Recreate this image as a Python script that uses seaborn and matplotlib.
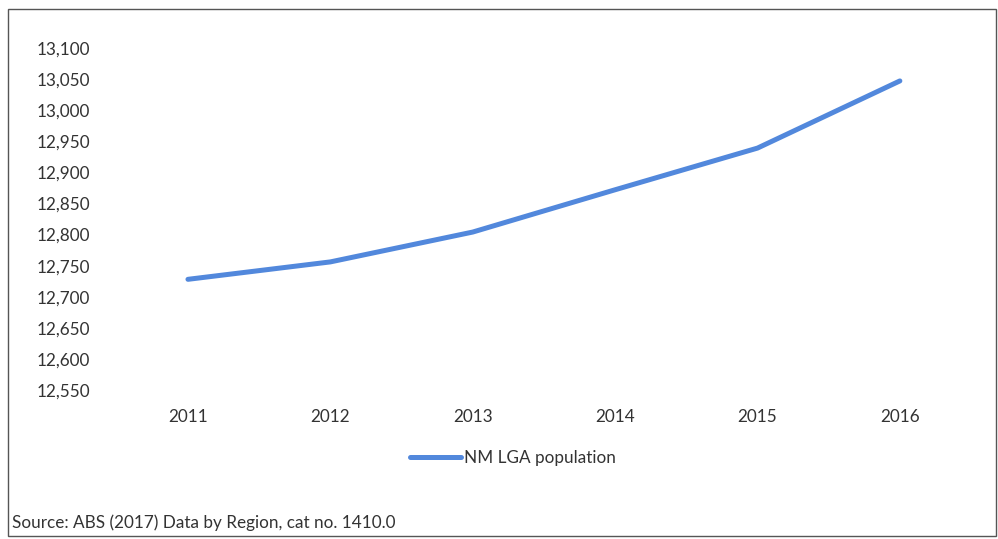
import pandas as pd
import numpy as np
import matplotlib
matplotlib.use('Agg')
import matplotlib.pyplot as plt
import seaborn as sns
from matplotlib.ticker import FuncFormatter
from matplotlib.patches import Rectangle

#------------------------------------------------
years=[2011, 2012, 2013, 2014, 2015, 2016]
population=[12728, 12756, 12804, 12872, 12939, 13047]
y_ticks=[12550, 12600, 12650, 12700, 12750, 12800, 12850, 12900, 12950, 13000, 13050, 13100]
series_name='NM LGA population'
source='Source: ABS (2017) Data by Region, cat no. 1410.0'

c_line='#5288dc'
c_txt='#333333'

##########################################################
sns.set_style('white')
plt.rcParams['font.family']=['Lato', 'DejaVu Sans']

df=pd.DataFrame({'year': years, series_name: population})

fig=plt.figure(figsize=(9.98, 5.39), dpi=100)
ax=fig.add_axes([0.117, 0.2764, 0.856, 0.6346])

sns.lineplot(data=df, x='year', y=series_name, ax=ax, color=c_line,
             linewidth=3.6, label=series_name, legend=False)

#adjust
ax.set_xlim(2010.5, 2016.5)
ax.set_ylim(y_ticks[0], y_ticks[-1])
ax.set_yticks(y_ticks)
ax.set_xticks(years)
ax.yaxis.set_major_formatter(FuncFormatter(lambda v, p: f'{int(v):,}'))
ax.tick_params(axis='both', length=0, labelsize=12.3, colors=c_txt)
ax.tick_params(axis='x', pad=14)
ax.tick_params(axis='y', pad=19)
ax.set_xlabel('')
ax.set_ylabel('')
for s in ax.spines.values():
    s.set_visible(False)
for l in ax.lines:
    l.set_clip_on(False)
    l.set_solid_capstyle('round')

#legend
fig.legend(handles=ax.lines[:1], labels=[series_name], loc='center',
           bbox_to_anchor=(0.514, 1-458/539), frameon=False, fontsize=12.3,
           handlelength=3.0, handletextpad=0.2, labelcolor=c_txt)

#source
fig.text(12/998, 1-523/539, source, fontsize=12.3, color=c_txt, va='center', ha='left')

#border
fig.patches.append(Rectangle((8/998, 3/539), 988/998, 527/539, transform=fig.transFigure,
                             fill=False, edgecolor='#555555', linewidth=1))

#save
plt.savefig('out.png', dpi=100)
plt.close()
